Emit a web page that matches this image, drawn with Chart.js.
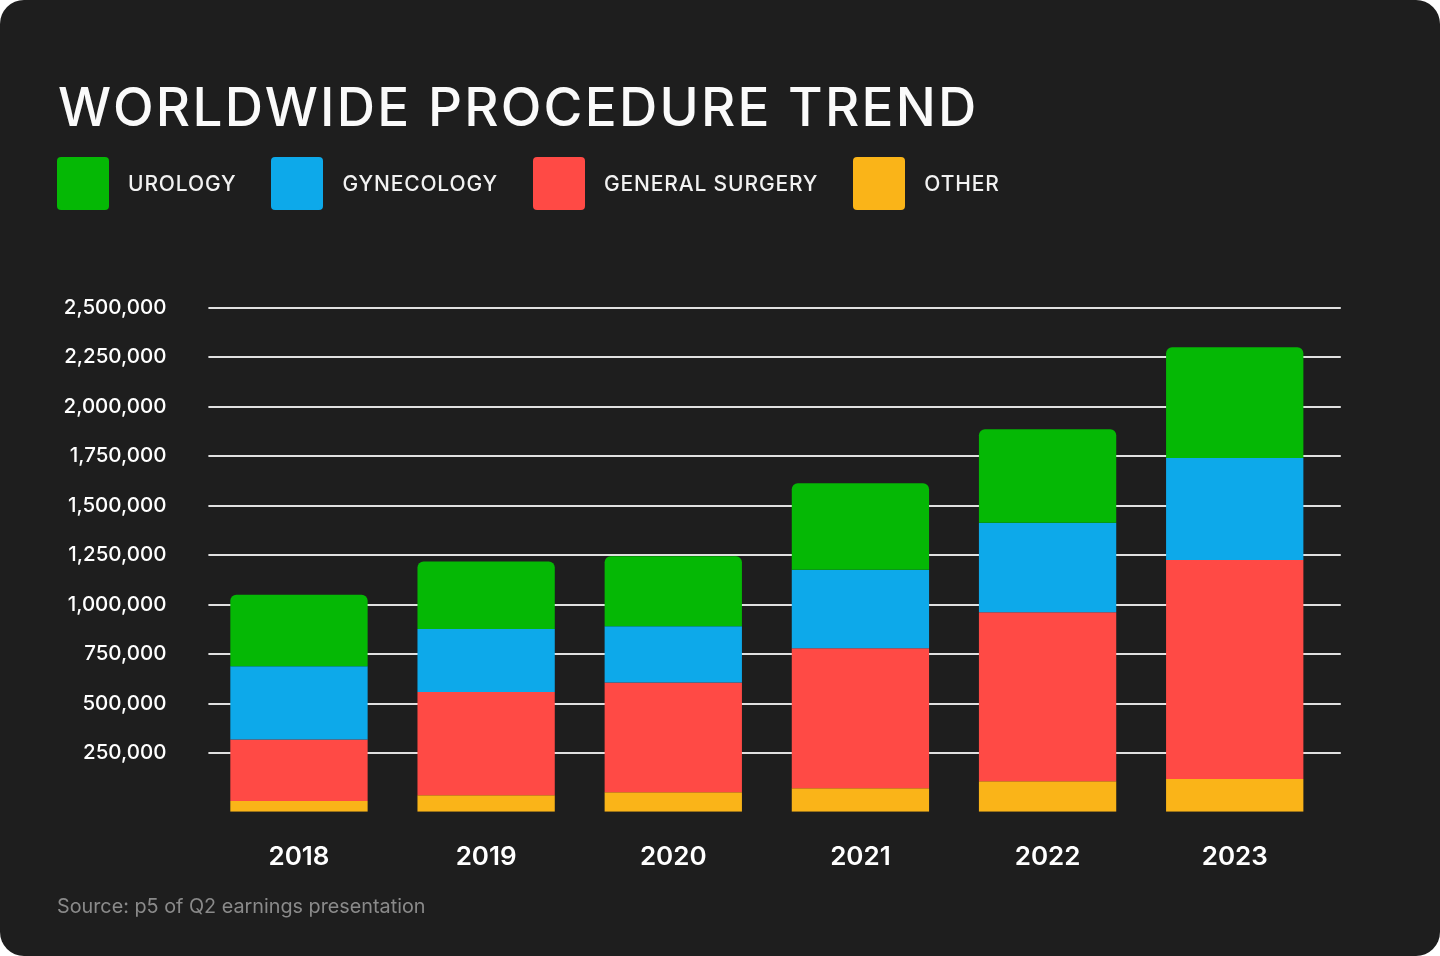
<!DOCTYPE html>
<html>
<head>
<meta charset="utf-8">
<script src="https://cdn.jsdelivr.net/npm/chart.js@4.4.1/dist/chart.umd.min.js"></script>
<style>
  html, body { margin: 0; padding: 0; background: #ffffff; }
  #card { position: absolute; left: 0; top: 0; width: 1440px; height: 956px; background: #1e1e1e; border-radius: 24px; overflow: hidden; font-family: Inter, "Noto Sans", sans-serif; }
  #chart { position: absolute; left: 0; top: 0; }
  #title { position: absolute; left: 58px; top: 81px; margin: 0; font-size: 53px; line-height: 53px; font-weight: 500; color: #fafafa; letter-spacing: 2.25px; white-space: nowrap; }
  #legend { position: absolute; left: 57px; top: 157px; display: flex; align-items: center; }
  .item { display: flex; align-items: center; margin-right: 35px; }
  .swatch { width: 52px; height: 53px; border-radius: 4px; margin-right: 19px; }
  .ltext { font-size: 21px; font-weight: 500; color: #f2f2f2; letter-spacing: 0.85px; white-space: nowrap; }
  #source { position: absolute; left: 57px; top: 894px; font-size: 19.8px; color: #8a8a8a; white-space: nowrap; }
</style>
</head>
<body>
<div id="card">
  <canvas id="chart" width="1440" height="956"></canvas>
  <div id="title">WORLDWIDE PROCEDURE TREND</div>
  <div id="legend"></div>
  <div id="source">Source: p5 of Q2 earnings presentation</div>
</div>
<script>
// ---- data ----
const years = ["2018", "2019", "2020", "2021", "2022", "2023"];
const seriesNames = ["UROLOGY", "GYNECOLOGY", "GENERAL SURGERY", "OTHER"];
const urology = [360000, 340000, 353000, 436000, 472000, 559000];
const gynecology = [370000, 318000, 284000, 397000, 452000, 515000];
const generalSurgery = [311000, 522000, 555000, 707000, 853000, 1106000];
const other = [9000, 38000, 53000, 73000, 109000, 120000];
const yTicks = [250000, 500000, 750000, 1000000, 1250000, 1500000, 1750000, 2000000, 2250000, 2500000];

// ---- style ----
const colors = ["#05b805", "#0da9ea", "#ff4a45", "#fab418"];
const BAR_FLOOR = -45000;   // bars start slightly below zero in the reference
const Y_MAX = 2500000;

// legend (HTML)
const legendEl = document.getElementById('legend');
seriesNames.forEach((n, i) => {
  const it = document.createElement('div'); it.className = 'item';
  const sw = document.createElement('div'); sw.className = 'swatch'; sw.style.background = colors[i];
  const tx = document.createElement('div'); tx.className = 'ltext'; tx.textContent = n;
  it.appendChild(sw); it.appendChild(tx); legendEl.appendChild(it);
});

// build floating segments from the series (bottom to top: other, GS, gyn, uro)
const stackOrder = [other, generalSurgery, gynecology, urology];
const segs = stackOrder.map(() => []);
years.forEach((y, i) => {
  let base = 0;
  stackOrder.forEach((arr, k) => {
    const start = k === 0 ? BAR_FLOOR : base;
    const end = base + arr[i];
    segs[k].push([start, end]);
    base = end;
  });
});

const gridPlugin = {
  id: 'extGrid',
  beforeDatasetsDraw(chart) {
    const {ctx, chartArea, scales: {y}} = chart;
    ctx.save();
    ctx.strokeStyle = 'rgba(235,235,235,0.95)';
    ctx.lineWidth = 2;
    yTicks.forEach(v => {
      const py = Math.round(y.getPixelForValue(v));
      ctx.beginPath();
      ctx.moveTo(chartArea.left + 3, py);
      ctx.lineTo(chartArea.right + 12.5, py);
      ctx.stroke();
    });
    ctx.restore();
  }
};

const datasets = [
  { label: seriesNames[0], data: segs[3], backgroundColor: colors[0], borderRadius: {topLeft: 6, topRight: 6, bottomLeft: 0, bottomRight: 0}, borderSkipped: false },
  { label: seriesNames[1], data: segs[2], backgroundColor: colors[1], borderRadius: 0 },
  { label: seriesNames[2], data: segs[1], backgroundColor: colors[2], borderRadius: 0 },
  { label: seriesNames[3], data: segs[0], backgroundColor: colors[3], borderRadius: 0 },
];

new Chart(document.getElementById('chart'), {
  type: 'bar',
  data: { labels: years, datasets },
  plugins: [gridPlugin],
  options: {
    responsive: false,
    devicePixelRatio: 1,
    animation: false,
    layout: { padding: { top: 307.7, left: 0, right: 111.7, bottom: 84.3 } },
    datasets: { bar: { categoryPercentage: 0.7337, barPercentage: 1, borderWidth: 0 } },
    plugins: { legend: { display: false }, tooltip: { enabled: false }, title: { display: false } },
    scales: {
      x: {
        stacked: true,
        grid: { display: false, drawTicks: false },
        border: { display: false },
        ticks: { color: '#ffffff', font: { family: 'Inter', size: 26, weight: '600' }, padding: 30 },
        afterFit(scale) { scale.height = 60; }
      },
      y: {
        stacked: false,
        min: BAR_FLOOR,
        max: Y_MAX,
        grid: { display: false, drawTicks: false },
        border: { display: false },
        afterBuildTicks(scale) { scale.ticks = yTicks.map(v => ({ value: v })); },
        afterFit(scale) { scale.width = 205.4; },
        ticks: {
          color: '#ffffff', padding: 39,
          font: { family: 'Inter', size: 20.5, weight: '500' },
          callback: (v) => Number(v).toLocaleString('en-US')
        }
      }
    }
  }
});
</script>
</body>
</html>
